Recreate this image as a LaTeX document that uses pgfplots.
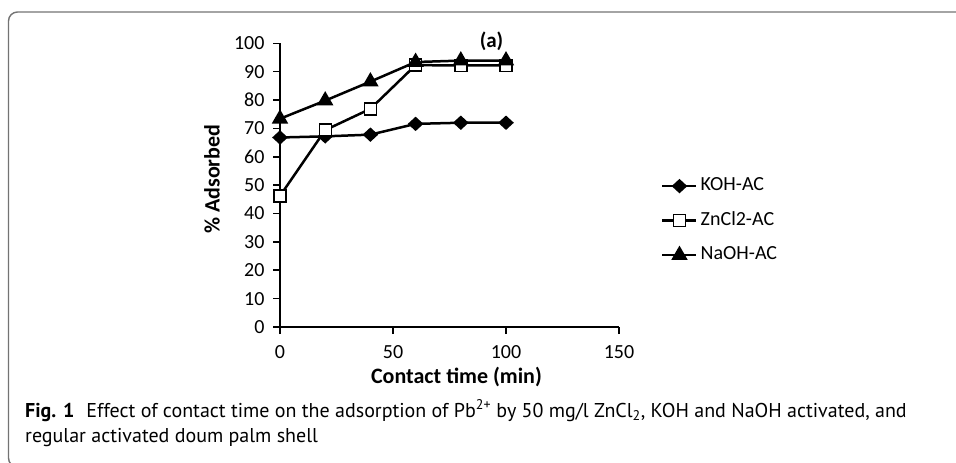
\documentclass[border=0pt]{standalone}
\usepackage{fontspec}
\setmainfont{Carlito}
\newfontfamily\capfont{PT Sans}
\usepackage{pgfplots}
\usepackage{pgfplotstable}
\pgfplotsset{compat=1.18}

% contact time (min) vs % adsorbed
\pgfplotstableread{
t    KOH   ZnCl  NaOH
0    66.8  46.2  73.4
20   67.2  69.4  79.8
40   67.8  76.9  86.5
60   71.6  92.3  93.4
80   72.0  92.2  93.9
100  72.0  92.2  93.9
}\adsorb

\begin{document}
\begin{tikzpicture}
\path[use as bounding box, clip] (0pt,0pt) rectangle (956pt,-463pt);
% caption frame
\draw[black!55, line width=1.4pt, rounded corners=9pt]
  (980pt,-12pt) -- (8.5pt,-12pt) -- (8.5pt,-467pt) -- (40pt,-467pt);

\begin{axis}[
    at={(280pt,-327pt)}, anchor=south west,
    scale only axis,
    width=339pt, height=283.7pt,
    xmin=0, xmax=150, ymin=0, ymax=100,
    axis lines=left,
    axis line style={-, line width=2pt},
    xtick={0,50,100,150},
    ytick={0,10,...,100},
    tick align=outside,
    major tick length=7pt,
    tick style={black, line width=1.6pt},
    /pgf/number format/assume math mode=true,
    tick label style={font=\fontsize{20}{20}\selectfont},
    yticklabel style={xshift=-5pt},
    xticklabel style={yshift=-8pt},
    xlabel={\bfseries Contact time (min)},
    xlabel style={font=\fontsize{22}{22}\selectfont, at={(axis description cs:0.5,0)},
                  anchor=base, yshift=-56pt, xshift=7pt},
    ylabel={\bfseries \% Adsorbed},
    ylabel style={font=\fontsize{22}{22}\selectfont,
                  at={([xshift=-68pt, yshift=6pt]axis description cs:0,0.5)},
                  anchor=center},
    legend style={draw=none, fill=none, at={(axis description cs:1.124,0.375)},
                  anchor=west, inner sep=0pt, row sep=17.5pt,
                  nodes={inner sep=0pt, text height=13pt, text depth=4pt,
                         font=\fontsize{20}{20}\selectfont}},
    legend cell align=left,
    legend image code/.code={
      \draw[mark repeat=2, mark phase=2] plot coordinates {(0pt,0pt) (17pt,0pt) (34pt,0pt)};
    },
    /tikz/every odd column/.append style={column sep=3pt},
    clip=false,
]
\addplot[black, line width=2.5pt, mark=diamond*, mark size=5.5pt,
         mark options={xscale=1.45, solid}] table[x=t, y=KOH] {\adsorb};
\addplot[black, line width=2.5pt, mark=square*, mark size=6pt,
         mark options={fill=white, line width=1.4pt, solid}] table[x=t, y=ZnCl] {\adsorb};
\addplot[black, line width=2.5pt, mark=triangle*, mark size=7pt,
         mark options={solid}] table[x=t, y=NaOH] {\adsorb};
\legend{KOH-AC, ZnCl2-AC, NaOH-AC}
\node[font=\fontsize{21}{21}\selectfont\bfseries] at (axis cs:93.6,100.6) {(a)};
\end{axis}

% figure caption, one node per line
\node[anchor=base west, inner sep=0pt] at (25pt,-417pt)
  {\fontsize{20}{25}\selectfont\capfont
   \textbf{Fig. 1}\hspace{0.6em}Effect of contact time on the adsorption of Pb\textsuperscript{2+} by 50 mg/l ZnCl\textsubscript{2}, KOH and NaOH activated, and};
\node[anchor=base west, inner sep=0pt] at (25pt,-442pt)
  {\fontsize{20}{25}\selectfont\capfont regular activated doum palm shell};
\end{tikzpicture}
\end{document}
